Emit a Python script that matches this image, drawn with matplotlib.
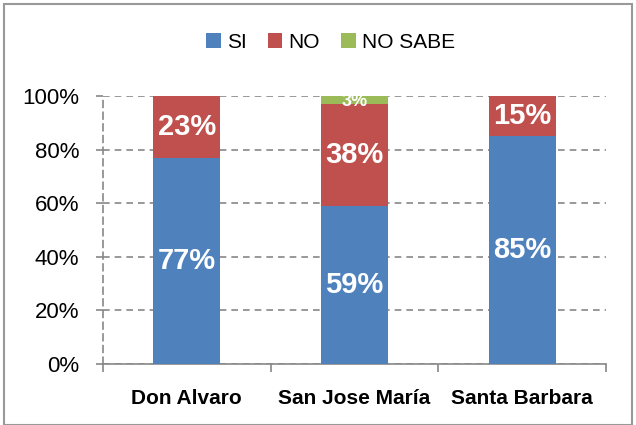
import matplotlib.pyplot as plt
import numpy as np
from matplotlib.ticker import PercentFormatter

plt.rcParams['font.family'] = ['Liberation Sans Narrow', 'Liberation Sans', 'DejaVu Sans']

categories = ["Don Alvaro", "San Jose María", "Santa Barbara"]
si = [77, 59, 85]
no = [23, 38, 15]
no_sabe = [0, 3, 0]

blue = "#4f81bd"
red = "#c0504d"
green = "#9bbb59"

fig = plt.figure(figsize=(6.36, 4.25), dpi=100)
ax = fig.add_axes([103 / 636, 1 - 364 / 425, 503 / 636, 268 / 425])

x = np.arange(len(categories))
w = 0.4
ax.bar(x, si, width=w, color=blue, label="SI", zorder=3)
ax.bar(x, no, width=w, bottom=si, color=red, label="NO", zorder=3)
ax.bar(x, no_sabe, width=w, bottom=np.add(si, no), color=green, label="NO SABE", zorder=3)

# data labels
for i in range(len(categories)):
    ax.text(x[i], si[i] / 2, f"{si[i]}%", ha="center", va="center",
            color="white", fontsize=21, fontweight="bold", zorder=4)
    ax.text(x[i], si[i] + no[i] / 2, f"{no[i]}%", ha="center", va="center",
            color="white", fontsize=21, fontweight="bold", zorder=4)
    if no_sabe[i] > 0:
        ax.text(x[i], si[i] + no[i] + no_sabe[i] / 2 - 0.5, f"{no_sabe[i]}%", ha="center",
                va="center", color="white", fontsize=13, fontweight="bold", zorder=4)

ax.set_xlim(-0.5, 2.5)
ax.set_ylim(0, 100)
ax.set_yticks([0, 20, 40, 60, 80, 100])
ax.yaxis.set_major_formatter(PercentFormatter(decimals=0))
ax.grid(axis="y", linestyle=(0, (4, 3)), color="#888888", linewidth=1.2, zorder=0)

ax.set_xticks(x)
ax.set_xticklabels(categories, fontsize=15, fontweight="bold")
ax.set_xticks([-0.5, 0.5, 1.5, 2.5], minor=True)
ax.tick_params(axis="x", which="major", length=0, pad=18)
ax.tick_params(axis="x", which="minor", length=6, color="#888888", width=1.2)
ax.tick_params(axis="y", labelsize=16, length=5, color="#888888", width=1.2, pad=12)

for s in ["top", "right"]:
    ax.spines[s].set_visible(False)
ax.spines["bottom"].set_color("#888888")
ax.spines["bottom"].set_linewidth(1.2)
ax.spines["left"].set_color("#888888")
ax.spines["left"].set_linestyle((0, (4, 3)))
ax.spines["left"].set_linewidth(1.2)

fig.legend(loc="center", bbox_to_anchor=(0.52, 1 - 42 / 425), ncol=3, frameon=False,
           fontsize=15, handlelength=0.7, handleheight=0.7, columnspacing=1.0,
           handletextpad=0.3)

border = plt.Rectangle((4 / 636, 0.0), 628 / 636, 1 - 4 / 425, transform=fig.transFigure,
                       fill=False, edgecolor="#999999", linewidth=1.5)
fig.patches.append(border)

fig.savefig("out.png", dpi=100)
